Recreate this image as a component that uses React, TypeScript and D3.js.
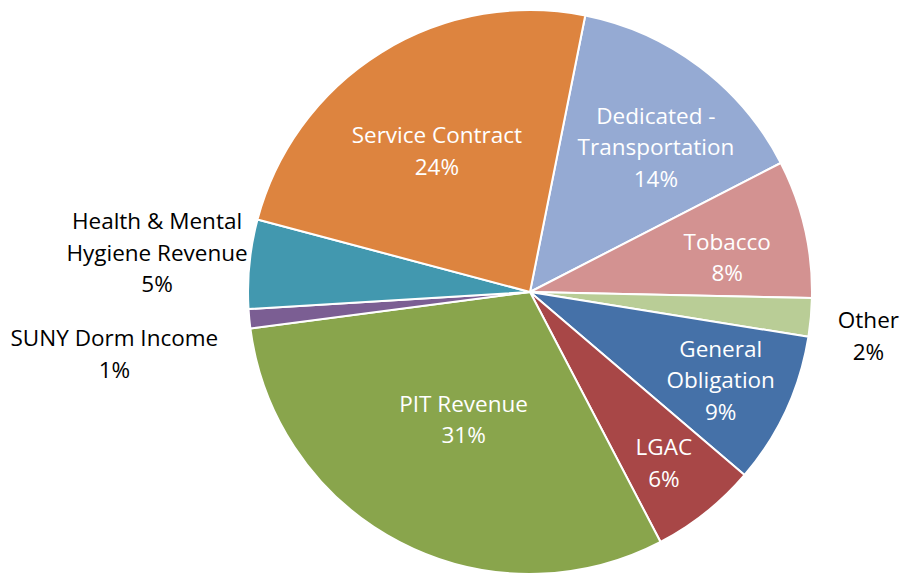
import { useEffect, useRef } from "react";
import * as d3 from "d3";

// ─── Data (clockwise, starting just right of 12 o'clock) ─────────────────────

const CATEGORIES = [
  "Dedicated - Transportation",
  "Tobacco",
  "Other",
  "General Obligation",
  "LGAC",
  "PIT Revenue",
  "SUNY Dorm Income",
  "Health & Mental Hygiene Revenue",
  "Service Contract",
];

const VALUES = [14.3, 7.9, 2.2, 8.7, 6.1, 30.6, 1.1, 5.1, 24.0];

// label lines as they break in the picture
const LABEL_LINES: string[][] = [
  ["Dedicated -", "Transportation"],
  ["Tobacco"],
  ["Other"],
  ["General", "Obligation"],
  ["LGAC"],
  ["PIT Revenue"],
  ["SUNY Dorm Income"],
  ["Health & Mental", "Hygiene Revenue"],
  ["Service Contract"],
];

// ─── Palette / layout ────────────────────────────────────────────────────────

const COLORS = [
  "#95AAD3",
  "#D39291",
  "#B9CD96",
  "#4571A8",
  "#A84747",
  "#89A54C",
  "#7B5E93",
  "#4298AF",
  "#DD843F",
];

// label anchor, relative to radius and to the slice mid-angle (degrees)
const LABEL_R = [0.68, 0.71, 1.21, 0.745, 0.77, 0.51, 1.49, 1.33, 0.6];
const LABEL_DA = [4, 3, 2.2, 0, 0.5, 0, -3, 0.3, -1.5];
const INSIDE = [true, true, false, true, true, true, false, false, true];

const FONT = "'Open Sans', sans-serif";

export default function App() {
  const svgRef = useRef<SVGSVGElement>(null);

  useEffect(() => {
    document.body.style.margin = "0";
    if (!svgRef.current) return;

    const W = 904,
      H = 574;
    const cx = 530,
      cy = 292,
      R = 282;
    const start = (11.3 * Math.PI) / 180;

    const svg = d3.select(svgRef.current);
    svg.selectAll("*").remove();
    svg.attr("viewBox", `0 0 ${W} ${H}`);

    const g = svg.append("g").attr("transform", `translate(${cx},${cy})`);

    const data = CATEGORIES.map((name, i) => ({ name, value: VALUES[i], i }));
    const total = d3.sum(VALUES);

    const pie = d3
      .pie<{ name: string; value: number; i: number }>()
      .sort(null)
      .value((d) => d.value)
      .startAngle(start)
      .endAngle(start + 2 * Math.PI);

    const arc = d3
      .arc<d3.PieArcDatum<{ name: string; value: number; i: number }>>()
      .innerRadius(0)
      .outerRadius(R);

    const arcs = pie(data);

    g.selectAll("path.slice")
      .data(arcs)
      .enter()
      .append("path")
      .attr("class", "slice")
      .attr("d", arc)
      .attr("fill", (d) => COLORS[d.data.i])
      .attr("stroke", "#FFFFFF")
      .attr("stroke-width", 2)
      .attr("stroke-linejoin", "round");

    // ── Labels ────────────────────────────────────────────────────────────────
    const lineH = 31.5;
    arcs.forEach((d) => {
      const i = d.data.i;
      const mid = (d.startAngle + d.endAngle) / 2 + (LABEL_DA[i] * Math.PI) / 180;
      const r = R * LABEL_R[i];
      const x = Math.sin(mid) * r;
      const y = -Math.cos(mid) * r;
      const lines = [
        ...LABEL_LINES[i],
        `${Math.round((d.data.value / total) * 100)}%`,
      ];
      const y0 = y - ((lines.length - 1) * lineH) / 2;
      const t = g
        .append("text")
        .attr("text-anchor", "middle")
        .attr("font-family", FONT)
        .attr("font-size", 22.5)
        .attr("fill", INSIDE[i] ? "#FFFFFF" : "#000000");
      lines.forEach((ln, k) => {
        t.append("tspan")
          .attr("x", x)
          .attr("y", y0 + k * lineH)
          .attr("dy", "0.36em")
          .text(ln);
      });
    });
  }, []);

  return (
    <div style={{ width: 904, height: 574, background: "#FFFFFF" }}>
      <svg
        ref={svgRef}
        width={904}
        height={574}
        style={{ display: "block" }}
        role="img"
        aria-label="Pie chart of debt by financing program"
      />
    </div>
  );
}
